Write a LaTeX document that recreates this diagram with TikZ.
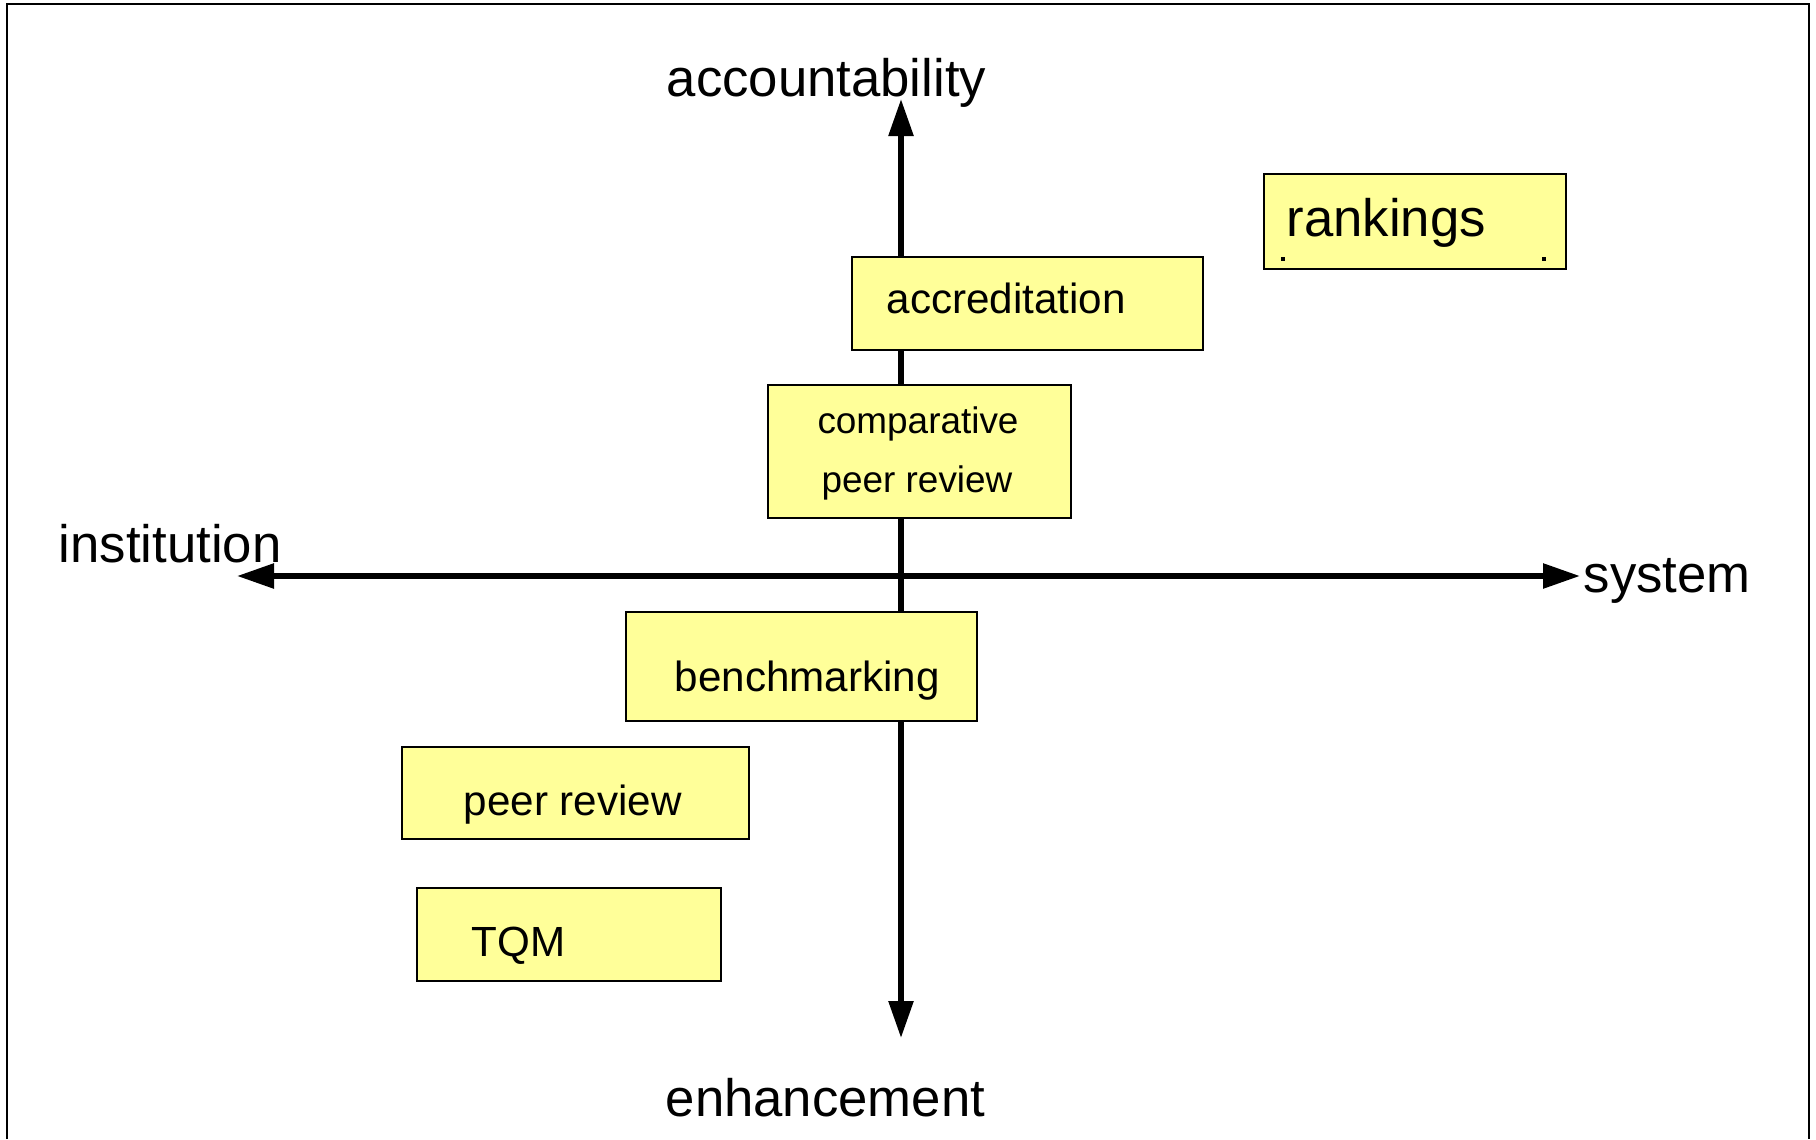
\documentclass[tikz,border=0pt]{standalone}
\usepackage{fontspec}
\setmainfont{Liberation Sans}
\usepackage{tikz}
\usetikzlibrary{arrows.meta}
\usepackage{xcolor}
\definecolor{boxyellow}{RGB}{255,255,153}

\begin{document}
\begin{tikzpicture}[>={Triangle[length=0.37cm,width=0.24cm]},
  axis/.style={line width=1.6pt},
  box/.style={draw,line width=0.4pt,fill=boxyellow,inner sep=0pt},
  lbl/.style={anchor=base west,inner sep=0pt,font=\fontsize{15}{18}\selectfont},
  txt/.style={anchor=base west,inner sep=0pt,font=\fontsize{12}{14}\selectfont}]
\useasboundingbox (0,0) rectangle (18.16,11.39);
% frame, open at the bottom
\draw[line width=0.6pt] (0.07,0) -- (0.07,11.35) -- (18.09,11.35) -- (18.09,0);
% axes
\coordinate (top) at (9.01,10.40);
\coordinate (bot) at (9.01,1.01);
\coordinate (lft) at (2.37,5.63);
\coordinate (rgt) at (15.80,5.63);
\draw[axis,<->] (bot)--(top);
\draw[axis,<->] (lft)--(rgt);
\node[lbl](acc) at (6.66,10.43){accountability};
\node[lbl](enh) at (6.65,0.23){enhancement};
\node[lbl](inst) at (0.58,5.77){institution};
\node[lbl](sys) at (15.83,5.47){system};
% boxes
\node[box,minimum width=3.02cm,minimum height=0.95cm](rank) at (14.15,9.175){};
\node[box,minimum width=3.51cm,minimum height=0.93cm](accr) at (10.275,8.355){};
\node[box,minimum width=3.03cm,minimum height=1.33cm](cpr) at (9.195,6.875){};
\node[box,minimum width=3.51cm,minimum height=1.09cm](bench) at (8.015,4.725){};
\node[box,minimum width=3.47cm,minimum height=0.92cm](peer) at (5.755,3.46){};
\node[box,minimum width=3.04cm,minimum height=0.93cm](tqm) at (5.69,2.045){};
\fill (12.81,8.78) rectangle +(0.04,0.04);
\fill (15.42,8.78) rectangle +(0.04,0.04);
% box texts
\node[lbl](rank-t) at (12.86,9.03){rankings};
\node[txt](accr-t) at (8.86,8.26){accreditation};
\node[anchor=base,inner sep=0pt,font=\fontsize{10.5}{12}\selectfont](cpr-t1) at (9.18,7.06){comparative};
\node[anchor=base,inner sep=0pt,font=\fontsize{10.5}{12}\selectfont](cpr-t2) at (9.17,6.47){peer review};
\node[txt](bench-t) at (6.74,4.48){benchmarking};
\node[txt](peer-t) at (4.63,3.24){peer review};
\node[txt](tqm-t) at (4.71,1.83){TQM};
\end{tikzpicture}
\end{document}
